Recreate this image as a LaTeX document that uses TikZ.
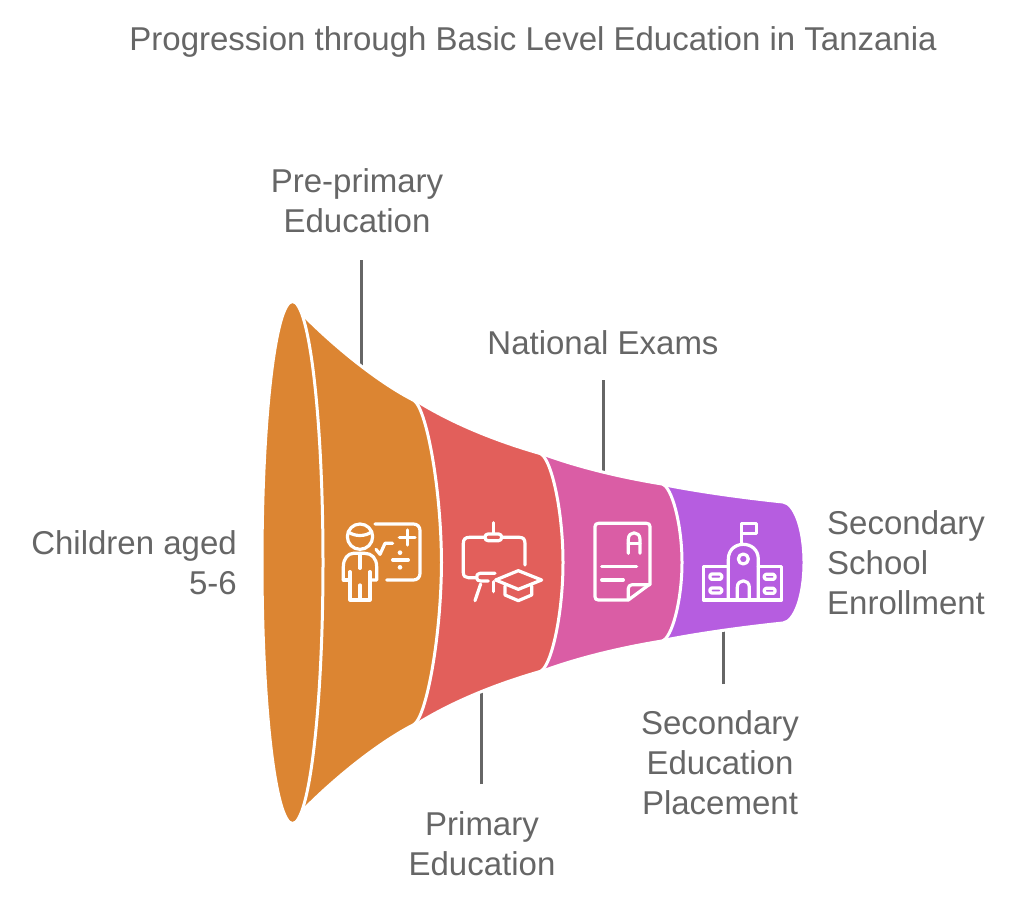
\documentclass[tikz,border=0pt]{standalone}
\usepackage{fontspec}
\setmainfont{Liberation Sans}
\definecolor{txt}{HTML}{666666}
\definecolor{cOrange}{HTML}{DC8532}
\definecolor{cRed}{HTML}{E25F5B}
\definecolor{cPink}{HTML}{DA5DA5}
\definecolor{cPurple}{HTML}{B65DE0}
\tikzset{
  label/.style={text=txt,inner sep=0pt,font=\fontsize{33}{40}\selectfont},
  leader/.style={draw=txt,line width=3pt},
  band/.style={draw=white,line width=3pt,line join=round},
  icon/.style={draw=white,line width=3.2pt,line cap=round,line join=round,fill=none},
  zoomA/.style={shift={(330,510)},x=0.3333pt,y=-0.3333pt},
  zoomB/.style={shift={(580,510)},x=0.3333pt,y=-0.3333pt}
}
\begin{document}
\begin{tikzpicture}[x=1pt,y=-1pt]
\useasboundingbox (0,0) rectangle (1024,904);
\fill[white] (0,0) rectangle (1024,904);
% labels
\node[label] (title) at (533,42) {Progression through Basic Level Education in Tanzania};
\node[label,align=center] (pre) at (357,201) {Pre-primary\\Education};
\node[label] (exam) at (603,343) {National Exams};
\node[label,align=right,anchor=east] (child) at (237,563) {Children aged\\5-6};
\node[label,align=left,anchor=west] (enrol) at (827,563) {Secondary\\School\\Enrollment};
\node[label,align=center] (place) at (720,763) {Secondary\\Education\\Placement};
\node[label,align=center] (prim) at (482,844) {Primary\\Education};
% leader ends
\coordinate (preA) at (361,260); \coordinate (preB) at (361,372);
\coordinate (examA) at (603,380); \coordinate (examB) at (603,476);
\coordinate (primA) at (481,784); \coordinate (primB) at (481,685);
\coordinate (placeA) at (723,684); \coordinate (placeB) at (723,625);
\draw[leader] (preA) -- (preB);
\draw[leader] (examA) -- (examB);
\draw[leader] (primA) -- (primB);
\draw[leader] (placeA) -- (placeB);
% purple
\path[band,fill=cPurple] (660,484) .. controls (700,492) and (745,498) .. (783,502)
  .. controls (795,503.5) and (804,530) .. (804,562.5)
  .. controls (804,595) and (795,621.5) .. (783,623)
  .. controls (745,627) and (700,633) .. (660,641) -- cycle;
% pink
\path[band,fill=cPink] (540,453) .. controls (580,468) and (625,478) .. (662,484)
  .. controls (672,486.5) and (682,525) .. (682,562.5)
  .. controls (682,600) and (672,638.5) .. (662,641)
  .. controls (625,647) and (580,657) .. (540,672) -- cycle;
% red
\path[band,fill=cRed] (415,400) .. controls (455,425) and (500,442) .. (540,453.5)
  .. controls (551,457) and (563,510) .. (563,562.5)
  .. controls (563,615) and (551,668) .. (540,671.5)
  .. controls (500,683) and (455,700) .. (415,725) -- cycle;
% orange body
\path[band,fill=cOrange] (292,303) .. controls (318,332) and (370,378) .. (414,400.5)
  .. controls (426,408) and (441,485) .. (441.5,562.5)
  .. controls (441,640) and (426,717) .. (414,724.5)
  .. controls (370,747) and (318,793) .. (292,822) -- cycle;
% ellipse
\path[band,fill=cOrange] (292.5,562.5) ellipse [x radius=30.5,y radius=261];
% icon 1
\begin{scope}[zoomA]
\draw[icon] (90,80) circle (38);
\draw[icon] (55,66) .. controls (75,80) and (105,80) .. (124,66);
\draw[icon] (40,210) -- (40,170) .. controls (40,145) and (55,130) .. (70,130) -- (105,130) .. controls (125,130) and (140,145) .. (140,170) -- (140,210) -- (120,210);
\draw[icon] (40,210) -- (60,210);
\draw[icon] (60,185) -- (60,270) -- (120,270) -- (120,185);
\draw[icon] (90,130) -- (90,175);
\draw[icon] (90,225) -- (90,270);
\draw[icon] (135,42) -- (250,42) .. controls (262,42) and (270,50) .. (270,62) -- (270,190) .. controls (270,202) and (262,210) .. (250,210) -- (170,210);
\draw[icon] (232,60) -- (232,105);
\draw[icon] (208,82) -- (255,82);
\draw[icon] (188,150) -- (235,150);
\fill[white] (210,128) circle (7) (210,172) circle (7);
\draw[icon] (138,118) -- (150,133) -- (165,100) -- (188,100);
% icon 2
\draw[icon] (490,38) -- (490,70);
\draw[icon,rounded corners=3pt] (465,72) rectangle (515,92);
\draw[icon] (465,82) -- (418,82) .. controls (406,82) and (400,88) .. (400,100) -- (400,188) .. controls (400,198) and (406,203) .. (415,203) -- (440,203);
\draw[icon] (515,82) -- (568,82) .. controls (580,82) and (585,88) .. (585,100) -- (585,165);
\draw[icon] (495,190) -- (450,190) .. controls (442,190) and (440,195) .. (440,203) .. controls (440,210) and (445,213) .. (452,213) -- (475,213);
\draw[icon] (452,222) -- (435,272);
\draw[icon] (490,215) -- (490,245);
\draw[icon] (497,210) -- (565,182) -- (635,210) -- (565,238) -- cycle;
\draw[icon] (525,228) -- (525,255) -- (565,272) -- (605,255) -- (605,228);
\end{scope}
% icon 3 and 4
\begin{scope}[zoomB]
\draw[icon] (145,270) -- (55,270) .. controls (48,270) and (45,266) .. (45,260) -- (45,50) .. controls (45,44) and (48,40) .. (55,40) -- (200,40) .. controls (207,40) and (210,44) .. (210,50) -- (210,222) -- (145,270);
\draw[icon] (145,270) -- (145,235) .. controls (145,228) and (150,224) .. (157,224) -- (210,224);
\draw[icon] (145,130) -- (145,88) .. controls (145,62) and (180,62) .. (180,88) -- (180,130);
\draw[icon] (145,100) -- (180,100);
\draw[icon] (65,170) -- (170,170);
\draw[icon] (65,210) -- (130,210);
\draw[icon] (485,100) -- (485,40) -- (530,40) -- (530,70) -- (485,70);
\draw[icon] (445,270) -- (445,148) .. controls (445,88) and (535,88) .. (535,148) -- (535,270);
\draw[icon] (490,147) circle (15);
\draw[icon] (445,170) -- (370,170) -- (370,270) -- (605,270) -- (605,170) -- (535,170);
\draw[icon] (472,270) -- (472,232) .. controls (472,206) and (508,206) .. (508,232) -- (508,270);
\draw[icon,rounded corners=1.5pt] (390,192) rectangle (425,208);
\draw[icon,rounded corners=1.5pt] (390,234) rectangle (425,249);
\draw[icon,rounded corners=1.5pt] (553,193) rectangle (585,208);
\draw[icon,rounded corners=1.5pt] (553,235) rectangle (585,250);
\end{scope}
\end{tikzpicture}
\end{document}
